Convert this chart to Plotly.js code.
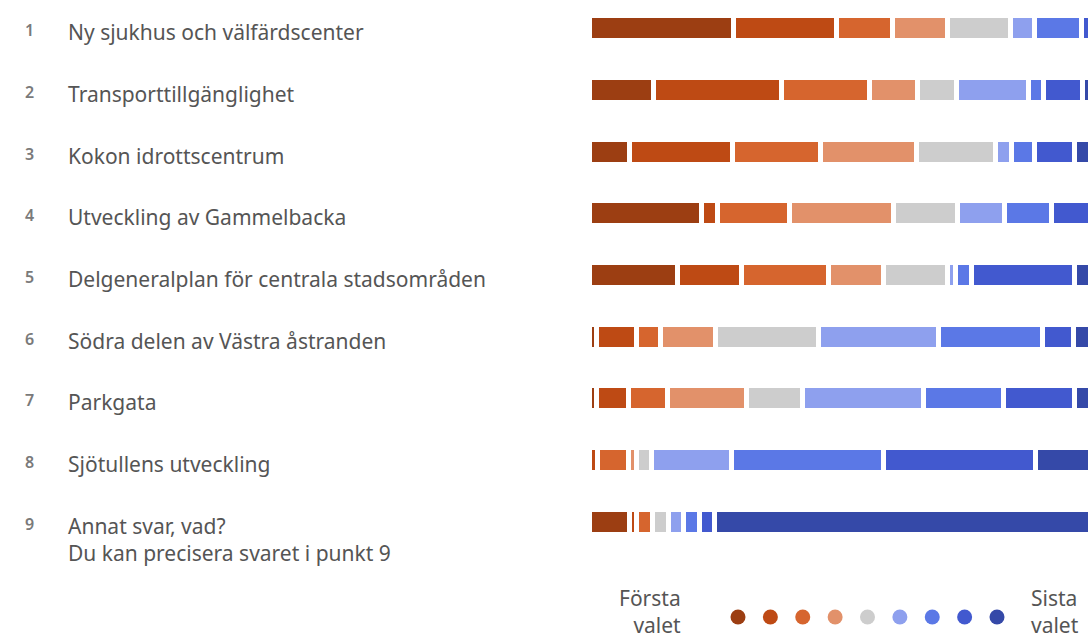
<!DOCTYPE html>
<html>
<head>
<meta charset="utf-8">
<script src="https://cdn.plot.ly/plotly-3.0.1.min.js"></script>
<style>
  html, body { margin: 0; padding: 0; background: #ffffff; }
  #chart { width: 1090px; height: 639px; }
</style>
</head>
<body>
<div id="chart"></div>
<script>
// ---- data ----
const itemNumbers = ['1', '2', '3', '4', '5', '6', '7', '8', '9'];
const itemLabels = [
  'Ny sjukhus och välfärdscenter',
  'Transporttillgänglighet',
  'Kokon idrottscentrum',
  'Utveckling av Gammelbacka',
  'Delgeneralplan för centrala stadsområden',
  'Södra delen av Västra åstranden',
  'Parkgata',
  'Sjötullens utveckling',
  'Annat svar, vad?<br>Du kan precisera svaret i punkt 9'
];
const ranks = [1, 2, 3, 4, 5, 6, 7, 8, 9];
const rankColors = ['#9c3e12', '#be4a14', '#d6652e', '#e2916a', '#cdcdcd', '#8ea0ee', '#5b78e6', '#4259cf', '#3549a8'];

// share (%) of respondents giving each rank (1 = first choice ... 9 = last choice), per item
const rank1 = [28.8, 12.8,  8.0, 22.5, 17.7,  1.5,  1.5,  0.0,  8.0];
const rank2 = [20.6, 25.6, 20.7,  3.2, 12.7,  7.9,  6.3,  1.6,  1.5];
const rank3 = [11.1, 17.6, 17.5, 14.4, 17.4,  4.8,  7.8,  6.3,  3.2];
const rank4 = [11.0,  9.5, 19.1, 20.7, 11.0, 11.1, 15.9,  1.6,  0.0];
const rank5 = [12.7,  7.9, 15.9, 12.7, 12.7, 20.6, 11.2,  3.0,  3.1];
const rank6 = [ 4.7, 14.3,  3.1,  9.4,  1.7, 23.8, 24.0, 16.0,  3.1];
const rank7 = [ 9.5,  3.1,  4.7,  9.4,  3.2, 20.8, 16.0, 30.3,  3.1];
const rank8 = [ 1.6,  7.8,  7.9,  7.7, 20.6,  6.3, 14.3, 30.3,  3.1];
const rank9 = [ 0.0,  1.4,  3.1,  0.0,  3.0,  3.2,  3.0, 10.9, 74.9];
const rankSeries = [rank1, rank2, rank3, rank4, rank5, rank6, rank7, rank8, rank9];

const legendLeft = 'Första<br>valet';
const legendRight = 'Sista<br>valet';

// ---- traces ----
const W = 1090, H = 639;
const textFont = 'Noto Sans, Open Sans, sans-serif';

const traces = rankSeries.map((vals, i) => ({
  type: 'bar',
  orientation: 'h',
  x: vals,
  y: itemLabels,
  name: 'Rank ' + ranks[i],
  marker: { color: rankColors[i], line: { color: '#ffffff', width: 5 } },
  hoverinfo: 'x+y',
  showlegend: false
}));

// colour scale dots (legend row)
traces.push({
  type: 'scatter',
  mode: 'markers',
  x: ranks,
  y: ranks.map(() => 0),
  xaxis: 'x2',
  yaxis: 'y2',
  marker: { color: rankColors, size: 15 },
  hoverinfo: 'skip',
  showlegend: false
});

// ---- annotations (row labels + legend texts) ----
const annotations = [];
itemLabels.forEach((lab, i) => {
  annotations.push({
    xref: 'paper', yref: 'y',
    x: 29 / W, y: lab,
    xanchor: 'center', yanchor: 'middle', yshift: -2,
    text: itemNumbers[i],
    showarrow: false,
    font: { family: textFont, size: 16, color: '#7a7a7a', weight: 600 }
  });
  annotations.push({
    xref: 'paper', yref: 'y',
    x: 66 / W, y: lab,
    xanchor: 'left', yanchor: 'top', yshift: 12,
    align: 'left',
    text: lab,
    showarrow: false,
    font: { family: textFont, size: 21, color: '#555555' }
  });
});
annotations.push({
  xref: 'paper', yref: 'paper',
  x: 683 / W, y: 1 - 611 / H,
  xanchor: 'right', yanchor: 'middle', align: 'right',
  text: legendLeft, showarrow: false,
  font: { family: textFont, size: 21, color: '#555555' }
});
annotations.push({
  xref: 'paper', yref: 'paper',
  x: 1029 / W, y: 1 - 611 / H,
  xanchor: 'left', yanchor: 'middle', align: 'left',
  text: legendRight, showarrow: false,
  font: { family: textFont, size: 21, color: '#555555' }
});

// ---- layout ----
const rowPx = 61.67, firstRowPx = 28.3;
const yTop = -firstRowPx / rowPx;
const yBottom = yTop + H / rowPx;

const dotStep = 32.375, dotFirstPx = 738, x2L = 700, x2R = 1035;

const layout = {
  width: W, height: H,
  margin: { l: 0, r: 0, t: 0, b: 0, pad: 0 },
  paper_bgcolor: '#ffffff', plot_bgcolor: '#ffffff',
  barmode: 'stack',
  barnorm: 'percent',
  bargap: 1 - 25 / rowPx,
  showlegend: false,
  xaxis: {
    domain: [589 / W, 1], range: [0, 100],
    showgrid: false, zeroline: false, showticklabels: false, showline: false, ticks: '', fixedrange: true
  },
  yaxis: {
    type: 'category', categoryorder: 'array', categoryarray: itemLabels,
    range: [yBottom, yTop],
    showgrid: false, zeroline: false, showticklabels: false, showline: false, ticks: '', fixedrange: true
  },
  xaxis2: {
    anchor: 'y2', domain: [x2L / W, x2R / W],
    range: [1 - (dotFirstPx - x2L) / dotStep, 9 + (x2R - (dotFirstPx + 8 * dotStep)) / dotStep],
    showgrid: false, zeroline: false, showticklabels: false, showline: false, ticks: '', fixedrange: true
  },
  yaxis2: {
    anchor: 'x2', domain: [0, 2 * (1 - 617 / H)], range: [-1, 1],
    showgrid: false, zeroline: false, showticklabels: false, showline: false, ticks: '', fixedrange: true
  },
  annotations: annotations,
  font: { family: textFont, color: '#555555' }
};

Plotly.newPlot('chart', traces, layout, { displayModeBar: false, staticPlot: true });
</script>
</body>
</html>
